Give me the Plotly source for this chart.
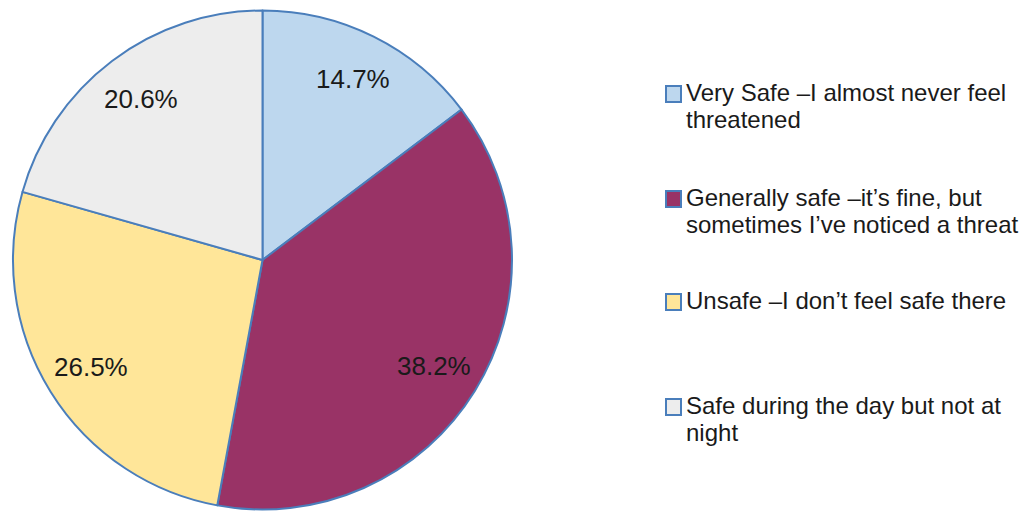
import math
import plotly.graph_objects as go

labels = [
    "Very Safe –I almost never feel<br>threatened",
    "Generally safe –it’s fine, but<br>sometimes I’ve noticed a threat",
    "Unsafe –I don’t feel safe there",
    "Safe during the day but not at<br>night",
]
values = [14.7, 38.2, 26.5, 20.6]
colors = ["#BDD7EE", "#993366", "#FFE699", "#EDEDED"]
edge = "#4A7EBB"
FONT = "Liberation Sans, Arial"

W, H = 1033, 515
cx, cy, R = 262.5, 260, 249.5  # pixel center / radius of pie

fig = go.Figure(go.Pie(
    labels=labels, values=values, sort=False, direction="clockwise", rotation=0,
    marker=dict(colors=colors, line=dict(color=edge, width=2)),
    textinfo="none", hoverinfo="label+percent", showlegend=False,
    domain=dict(x=[(cx - R) / W, (cx + R) / W], y=[(H - cy - R) / H, (H - cy + R) / H]),
))

annotations = []
shapes = []
total = sum(values)
cum = 0.0
for v in values:
    mid = (cum + v / 2) / total * 2 * math.pi
    cum += v
    rr = 0.81 * R
    px = cx + rr * math.sin(mid)
    py = cy - rr * math.cos(mid)
    annotations.append(dict(
        x=px / W, y=(H - py) / H, xref="paper", yref="paper", showarrow=False,
        text=f"{v:.1f}%", font=dict(size=26, color="#1a1a1a", family=FONT),
        xanchor="center", yanchor="middle"))

baselines = [101, 206, 309, 414]  # baseline pixel of first line of each legend item
LINE = 26.5
for lab, col, base in zip(labels, colors, baselines):
    for i, line in enumerate(lab.split("<br>")):
        b = base + i * LINE
        annotations.append(dict(
            x=684 / W, y=(H - (b - 8.5)) / H, xref="paper", yref="paper", showarrow=False,
            text=line, align="left", xanchor="left", yanchor="middle",
            font=dict(size=24, color="#1a1a1a", family=FONT)))
    shapes.append(dict(
        type="rect", xref="paper", yref="paper",
        x0=666 / W, x1=681 / W, y0=(H - (base - 15)) / H, y1=(H - base - 1) / H,
        fillcolor=col, line=dict(color=edge, width=2)))

fig.update_layout(
    width=W, height=H, margin=dict(l=0, r=0, t=0, b=0),
    paper_bgcolor="white", plot_bgcolor="white",
    annotations=annotations, shapes=shapes,
)
fig.write_html("out.html", config={"displayModeBar": False},
               post_script="document.body.style.margin='0';")
